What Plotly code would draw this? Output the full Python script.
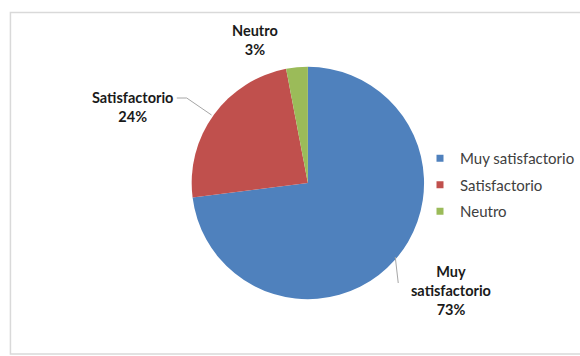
import plotly.graph_objects as go

categories = ["Muy satisfactorio", "Satisfactorio", "Neutro"]
values = [73, 24, 3]
colors = ["#4F81BD", "#C0504D", "#9BBB59"]

W, H = 580, 356

def px(x):
    return x / W

def py(y):
    return 1 - y / H

fig = go.Figure()

fig.add_trace(go.Pie(
    labels=categories,
    values=values,
    sort=False,
    direction="clockwise",
    rotation=0,
    marker=dict(colors=colors, line=dict(width=0)),
    textinfo="none",
    hoverinfo="label+percent",
    showlegend=False,
    domain=dict(x=[px(193), px(427)], y=[py(300), py(66)]),
))

# legend entries
for i, (c, col) in enumerate(zip(categories, colors)):
    fig.add_trace(go.Scatter(
        x=[None], y=[None], mode="markers", name=c,
        marker=dict(symbol="square", size=7, color=col),
        legendgroup=f"g{i}", showlegend=True,
    ))

# data labels
total = sum(values)
label_pos = {
    "Muy satisfactorio": (454, 290),
    "Satisfactorio": (133, 107),
    "Neutro": (257, 40),
}
annotations = []
for c, v in zip(categories, values):
    pct = round(100 * v / total)
    name = c.replace(" ", "<br>") if c == "Muy satisfactorio" else c
    lines = name.split("<br>") + [f"{pct}%"]
    text = "<br>".join(f"<b>{l}</b>" for l in lines)
    x, y = label_pos[c]
    annotations.append(dict(
        x=px(x), y=py(y), xref="paper", yref="paper",
        text=text, showarrow=False, xanchor="center", yanchor="middle",
        font=dict(family="Lato", size=14.5, color="#1a1a1a"),
    ))

shapes = [
    # chart border
    dict(type="rect", xref="paper", yref="paper",
         x0=px(10.5), x1=px(590), y0=py(354), y1=py(12.5),
         line=dict(color="#d9d9d9", width=1.5), fillcolor="rgba(0,0,0,0)"),
    # leader lines
    dict(type="path", xref="paper", yref="paper",
         path=f"M {px(178)},{py(98)} L {px(188)},{py(98)} L {px(213)},{py(115)}",
         line=dict(color="#a6a6a6", width=1)),
    dict(type="path", xref="paper", yref="paper",
         path=f"M {px(398)},{py(257)} L {px(401)},{py(283)}",
         line=dict(color="#a6a6a6", width=1)),
]

fig.update_layout(
    width=W, height=H,
    margin=dict(l=0, r=0, t=0, b=0),
    paper_bgcolor="white", plot_bgcolor="white",
    xaxis=dict(visible=False), yaxis=dict(visible=False),
    showlegend=True,
    legend=dict(
        x=px(423), y=py(142), xanchor="left", yanchor="top",
        font=dict(family="Lato", size=15, color="#404040"),
        tracegroupgap=4, bgcolor="rgba(0,0,0,0)",
    ),
    annotations=annotations,
    shapes=shapes,
)

fig.write_html("out.html")
